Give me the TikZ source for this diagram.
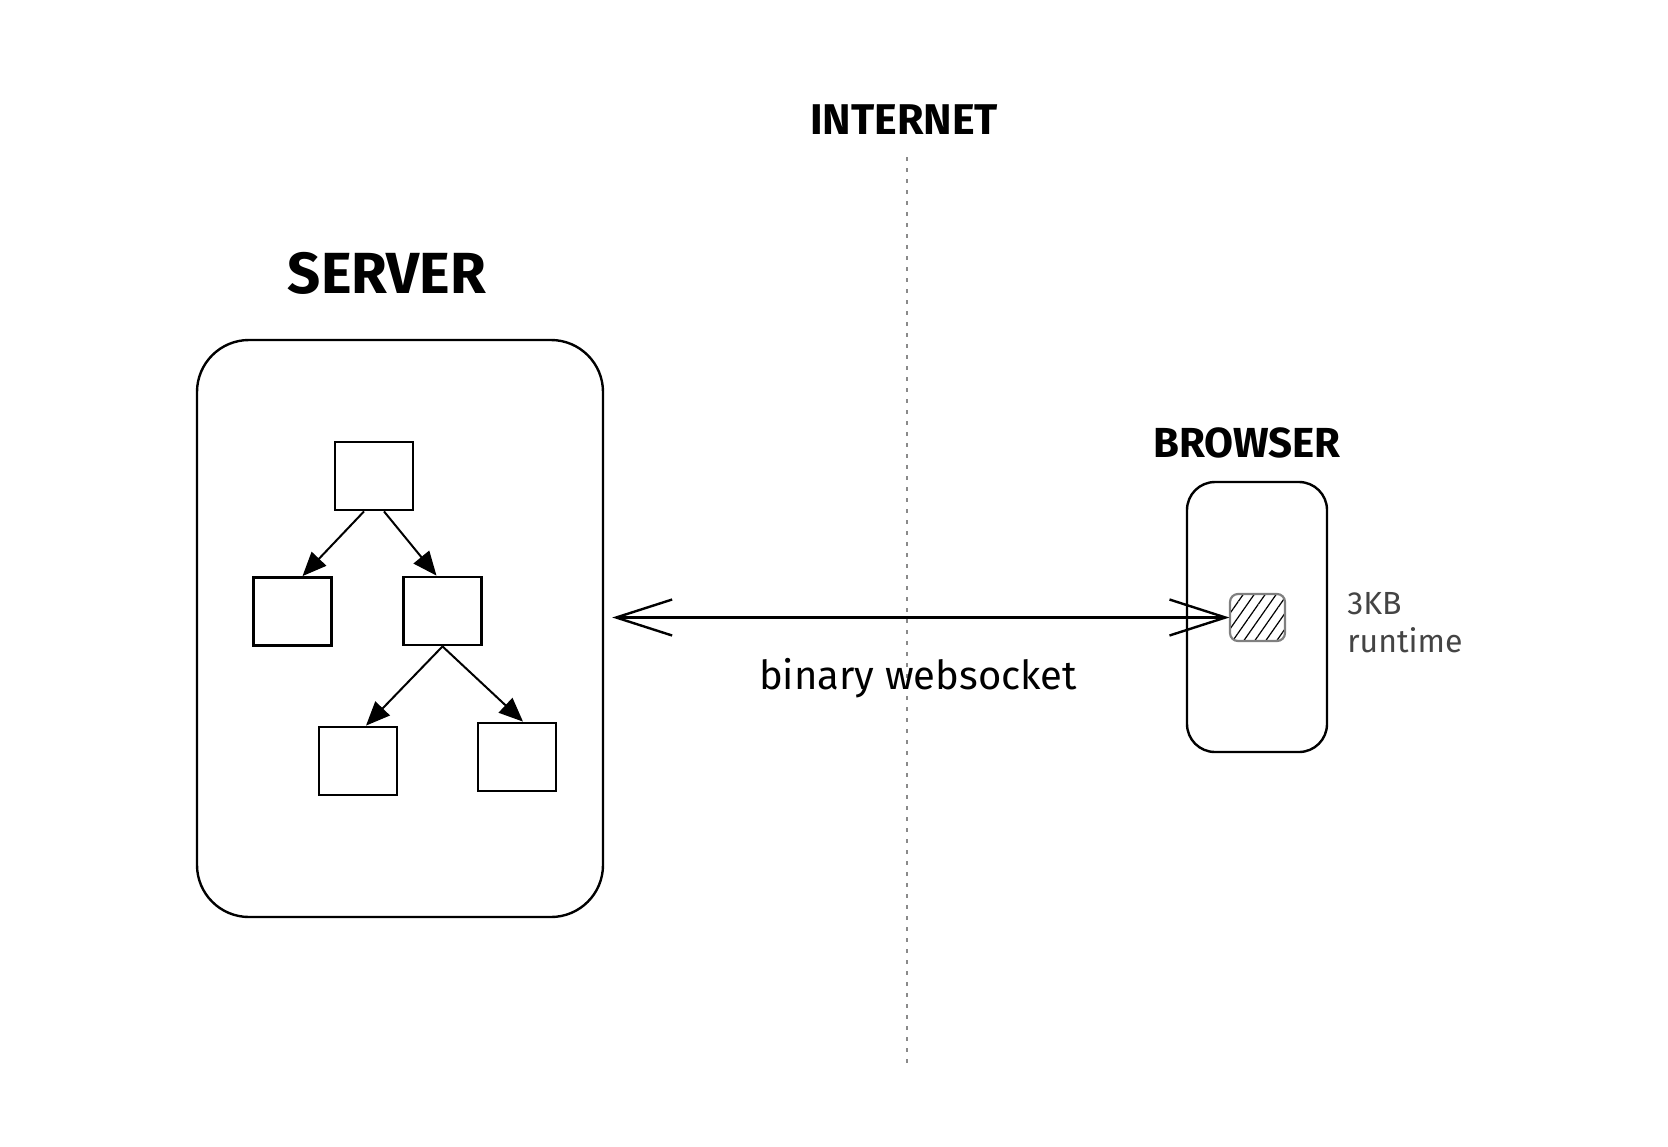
\documentclass[tikz,border=0pt]{standalone}
\usepackage{fontspec}
\setmainfont{Fira Sans}
\usetikzlibrary{positioning,arrows.meta,patterns.meta}
\definecolor{dotgray}{HTML}{8A8A8A}
\definecolor{rtgray}{HTML}{444444}
\tikzset{
  bigbox/.style={draw,line width=1.2pt,rounded corners=#1,inner sep=0pt},
  treebox/.style={draw,line width=1.4pt,minimum width=39pt,minimum height=34pt,inner sep=0pt},
  treearrow/.style={line width=1pt,-{Triangle[length=12pt,width=10pt]}},
  title/.style={font=\bfseries\fontsize{#1}{#1}\selectfont},
}
\begin{document}
\begin{tikzpicture}[x=0.5pt,y=-0.5pt]
  \useasboundingbox (0,0) rectangle (1668,1146);
  % internet border
  \node[title=21.5pt] (inet) at (904,120) {INTERNET};
  \coordinate (dtop) at (907,157);
  \coordinate (dbot) at (907,1066);
  \draw[dotgray,line width=1.2pt,dash pattern=on 2.2pt off 3.3pt] (dtop) -- (dbot);

  % server side
  \node[title=29pt] (srvlabel) at (387,273) {SERVER};
  \node[bigbox=26pt,minimum width=203pt,minimum height=288.5pt] (server) at (400,628.5) {};
  \node[treebox] (root) at (374,476) {};
  \node[treebox] (left) at (292.5,611.5) {};
  \node[treebox] (right) at (442.5,611) {};
  \node[treebox] (leafa) at (358,761) {};
  \node[treebox] (leafb) at (517,757) {};
  \draw[treearrow] ([xshift=-5pt]root.south) -- ([xshift=5pt]left.north);
  \draw[treearrow] ([xshift=5pt]root.south) -- ([xshift=-3pt]right.north);
  \draw[treearrow] (right.south) -- ([xshift=4pt]leafa.north);
  \draw[treearrow] (right.south) -- ([xshift=3pt]leafb.north);

  % browser side
  \node[title=21pt] (brwlabel) at (1247,443) {BROWSER};
  \node[bigbox=14pt,minimum width=70pt,minimum height=135pt] (browser) at (1257,617) {};
  \node[draw=gray,line width=1.1pt,rounded corners=4pt,minimum width=27.5pt,minimum height=23.5pt,
        pattern={Lines[angle=55,distance=4.5pt,line width=0.6pt]}] (rt) at (1257.5,617.5) {};
  \node[right=6pt of browser.east,yshift=-3pt,align=left,text=rtgray,font=\fontsize{16pt}{19pt}\selectfont] (rtlabel) {3KB\\runtime};

  % websocket
  \draw[line width=1.2pt,{Straight Barb[length=28pt,width=18pt]}-{Straight Barb[length=28pt,width=18pt]}]
    ([xshift=4pt]rt.west -| server.east) -- (rt.west);
  \node[font=\fontsize{20pt}{23pt}\selectfont] (wslabel) at (918,678) {binary websocket};
\end{tikzpicture}
\end{document}
